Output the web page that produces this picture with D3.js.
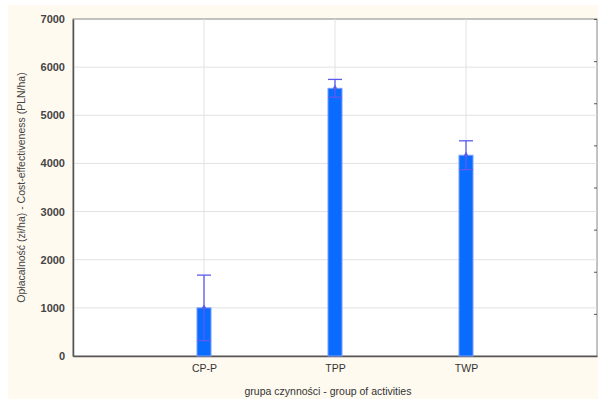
<!DOCTYPE html>
<html>
<head>
<meta charset="utf-8">
<script src="https://cdn.jsdelivr.net/npm/d3@7"></script>
<style>
  body { margin: 0; background: #fff; }
  text { font-family: "Liberation Sans", Arial, sans-serif; }
</style>
</head>
<body>
<svg class="chart"></svg>
<script>
var width = 598,
    height = 399;

var categories = ["CP-P", "TPP", "TWP"];
var means = [1000, 5560, 4170];
var errors = [680, 185, 300];
var yTicks = [0, 1000, 2000, 3000, 4000, 5000, 6000, 7000];

var margin = {top: 19, right: 1, bottom: 43, left: 73};
var plotW = width - margin.left - margin.right,
    plotH = height - margin.top - margin.bottom;

var x = d3.scalePoint()
    .domain(categories)
    .range([0, plotW])
    .padding(1);
var y = d3.scaleLinear()
    .domain([0, 7000])
    .range([plotH, 0]);
var yRight = d3.scaleLinear()
    .domain([0, 8])
    .range([plotH, 0]);

var chart = d3.select(".chart")
    .attr("width", width)
    .attr("height", height);

// cream page background
chart.append("rect")
    .attr("x", 8).attr("y", 5)
    .attr("width", width - 8).attr("height", height - 5)
    .attr("fill", "#fffaf0");

var g = chart.append("g")
    .attr("transform", "translate(" + margin.left + "," + margin.top + ")");

g.append("rect")
    .attr("width", plotW).attr("height", plotH)
    .attr("fill", "#fff")
    .attr("stroke", "#888");

// grid
g.selectAll(".hgrid")
    .data(yTicks.slice(1, -1))
  .enter().append("line")
    .attr("x1", 0).attr("x2", plotW)
    .attr("y1", function(d) { return y(d); })
    .attr("y2", function(d) { return y(d); })
    .attr("stroke", "#e2e2e2");

g.selectAll(".vgrid")
    .data(categories)
  .enter().append("line")
    .attr("x1", function(d) { return x(d); })
    .attr("x2", function(d) { return x(d); })
    .attr("y1", 0).attr("y2", plotH)
    .attr("stroke", "#e2e2e2");

// right minor ticks
g.append("g")
    .attr("transform", "translate(" + plotW + ",0)")
    .call(d3.axisLeft(yRight).ticks(8).tickSize(3).tickFormat(""))
    .call(function(s) {
      s.select(".domain").remove();
      s.selectAll("line").attr("stroke", "#555");
    });

// axes
g.append("g")
    .call(d3.axisLeft(y).tickValues(yTicks).tickFormat(d3.format("d")).tickSize(0).tickPadding(8))
    .call(function(s) {
      s.select(".domain").attr("stroke", "#555").attr("stroke-width", 1.5);
      s.selectAll("text")
        .attr("font-size", 11).attr("font-weight", "bold").attr("fill", "#444");
    });

g.append("g")
    .attr("transform", "translate(0," + plotH + ")")
    .call(d3.axisBottom(x).tickSize(0).tickPadding(9))
    .call(function(s) {
      s.select(".domain").attr("stroke", "#555").attr("stroke-width", 1.5);
      s.selectAll("text")
        .attr("font-size", 10.5).attr("fill", "#333");
    });

// bars
var barW = 14;
var bar = g.selectAll(".bar")
    .data(categories)
  .enter().append("g")
    .attr("transform", function(d) { return "translate(" + x(d) + ",0)"; });

bar.append("rect")
    .attr("x", -barW / 2)
    .attr("y", function(d, i) { return y(means[i]); })
    .attr("width", barW)
    .attr("height", function(d, i) { return plotH - y(means[i]); })
    .attr("fill", "#0a6cff")
    .attr("stroke", "#7a9cff")
    .attr("stroke-width", 1);

// error bars
var ec = "#5b5bf0";
bar.append("line")
    .attr("x1", 0).attr("x2", 0)
    .attr("y1", function(d, i) { return y(means[i] + errors[i]); })
    .attr("y2", function(d, i) { return y(means[i] - errors[i]); })
    .attr("stroke", ec).attr("stroke-width", 1.3);
bar.selectAll(".cap")
    .data(function(d, i) { return [means[i] + errors[i], means[i] - errors[i]]; })
  .enter().append("line")
    .attr("x1", -barW / 2).attr("x2", barW / 2)
    .attr("y1", function(d) { return y(d); })
    .attr("y2", function(d) { return y(d); })
    .attr("stroke", ec).attr("stroke-width", 1.3);
bar.append("path")
    .attr("transform", function(d, i) { return "translate(0," + y(means[i]) + ")"; })
    .attr("d", d3.symbol(d3.symbolDiamond, 14))
    .attr("fill", ec);

// titles
chart.append("text")
    .attr("transform", "translate(25," + (margin.top + plotH / 2) + ") rotate(-90)")
    .attr("text-anchor", "middle")
    .attr("font-size", 10.5)
    .attr("fill", "#444")
    .text("Opłacalność (zł/ha) - Cost-effectiveness (PLN/ha)");

chart.append("text")
    .attr("x", margin.left + plotW / 2 - 7)
    .attr("y", 395)
    .attr("text-anchor", "middle")
    .attr("font-size", 10.5)
    .attr("fill", "#333")
    .text("grupa czynności - group of activities");
</script>
</body>
</html>
